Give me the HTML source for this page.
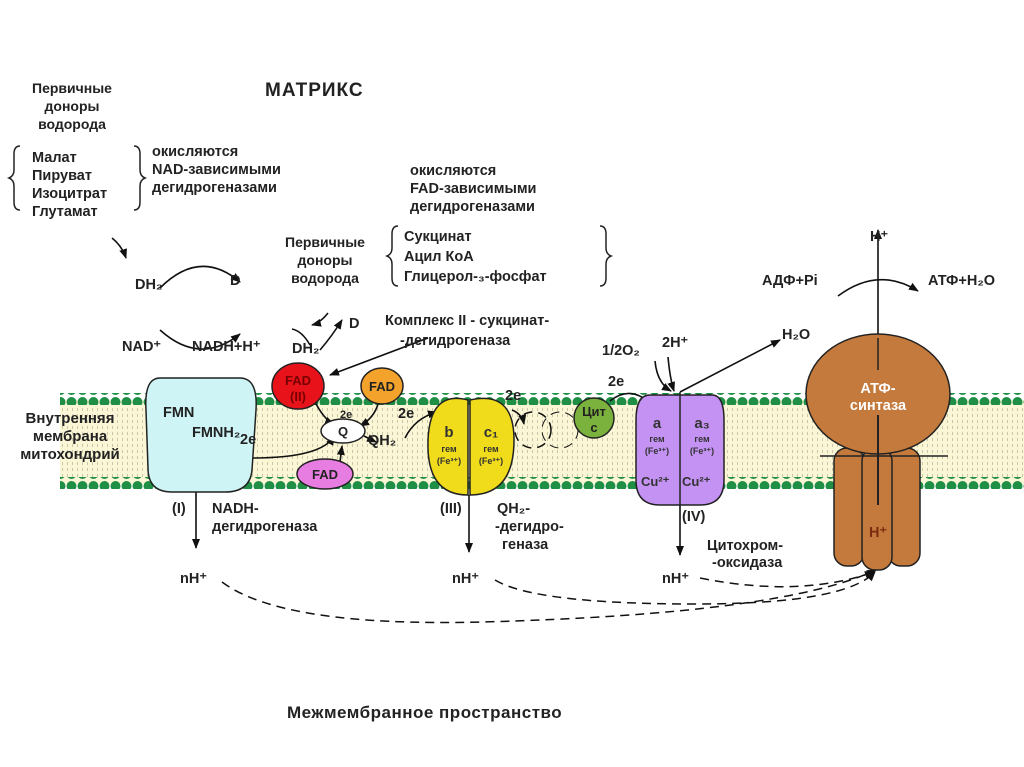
<!DOCTYPE html>
<html><head><meta charset="utf-8"><style>
body{margin:0;background:#fff}
svg{display:block;font-family:"Liberation Sans",sans-serif;font-weight:bold}
</style></head><body>
<svg width="1024" height="767" viewBox="0 0 1024 767">
<defs>
<marker id="a" markerWidth="10" markerHeight="8" refX="9" refY="4" orient="auto" markerUnits="userSpaceOnUse"><path d="M0,0 L10,4 L0,8 Z" fill="#111"/></marker>
<pattern id="bd" width="11" height="12" patternUnits="userSpaceOnUse"><circle cx="5.5" cy="6" r="5" fill="#1f8f45"/></pattern>
<pattern id="ln" width="5" height="6" patternUnits="userSpaceOnUse"><rect x="2" y="0" width="1" height="3" fill="#c9c7a8"/></pattern>
</defs>
<rect x="60" y="400" width="964" height="84" fill="#faf6d6"/>
<rect x="60" y="406" width="964" height="72" fill="url(#ln)"/>
<rect x="60" y="393" width="964" height="12" fill="url(#bd)"/>
<rect x="60" y="477" width="964" height="12" fill="url(#bd)"/>
<text font-size="15" fill="#222" text-anchor="middle"><tspan x="70" y="423">Внутренняя</tspan><tspan x="70" y="441">мембрана</tspan><tspan x="70" y="459">митохондрий</tspan></text>

<text font-size="14" fill="#222" text-anchor="middle"><tspan x="72" y="93">Первичные</tspan><tspan x="72" y="111">доноры</tspan><tspan x="72" y="129">водорода</tspan></text>
<text x="265" y="96" font-size="19" fill="#222" letter-spacing="1">МАТРИКС</text>
<text font-size="14.5" fill="#222"><tspan x="32" y="162">Малат</tspan><tspan x="32" y="180">Пируват</tspan><tspan x="32" y="198">Изоцитрат</tspan><tspan x="32" y="216">Глутамат</tspan></text>
<path d="M20,146 q-6,0 -6,8 v16 q0,6 -5,8 q5,2 5,8 v16 q0,8 6,8" fill="none" stroke="#222" stroke-width="1.5"/>
<path d="M134,146 q6,0 6,8 v16 q0,6 5,8 q-5,2 -5,8 v16 q0,8 -6,8" fill="none" stroke="#222" stroke-width="1.5"/>
<text font-size="14.5" fill="#222"><tspan x="152" y="156">окисляются</tspan><tspan x="152" y="174">NAD-зависимыми</tspan><tspan x="152" y="192">дегидрогеназами</tspan></text>
<text font-size="14.5" fill="#222"><tspan x="410" y="175">окисляются</tspan><tspan x="410" y="193">FAD-зависимыми</tspan><tspan x="410" y="211">дегидрогеназами</tspan></text>
<text font-size="14" fill="#222" text-anchor="middle"><tspan x="325" y="247">Первичные</tspan><tspan x="325" y="265">доноры</tspan><tspan x="325" y="283">водорода</tspan></text>
<text font-size="14.5" fill="#222"><tspan x="404" y="241">Сукцинат</tspan><tspan x="404" y="261">Ацил КоА</tspan><tspan x="404" y="281">Глицерол-₃-фосфат</tspan></text>
<path d="M398,226 q-6,0 -6,8 v14 q0,6 -5,8 q5,2 5,8 v14 q0,8 6,8" fill="none" stroke="#222" stroke-width="1.5"/>
<path d="M600,226 q6,0 6,8 v14 q0,6 5,8 q-5,2 -5,8 v14 q0,8 -6,8" fill="none" stroke="#222" stroke-width="1.5"/>

<g stroke="#111" stroke-width="1.6" fill="none">
<path d="M112,238 q10,8 14,20" marker-end="url(#a)"/>
<path d="M160,288 q40,-40 80,-6" marker-end="url(#a)"/>
<path d="M160,330 q40,36 80,4" marker-end="url(#a)"/>
<path d="M328,313 q-8,10 -16,12" marker-end="url(#a)"/>
<path d="M320,350 q12,-14 22,-30" marker-end="url(#a)"/>
<path d="M310,345 q-8,-14 -18,-16" />
<path d="M428,338 L330,375" marker-end="url(#a)"/>
<path d="M198,405 q0,-22 10,-22 q10,0 10,24" marker-end="url(#a)"/>
<path d="M232,440 q0,18 20,18 q70,0 82,-22" marker-end="url(#a)"/>
<path d="M314,400 q10,20 20,24" marker-end="url(#a)"/>
<path d="M378,404 q-4,14 -18,22" marker-end="url(#a)"/>
<path d="M340,462 l2,-16" marker-end="url(#a)"/>
<path d="M364,436 l12,6" marker-end="url(#a)"/>
<path d="M405,438 q10,-20 32,-26" marker-end="url(#a)"/>
<path d="M512,410 q10,4 12,14" marker-end="url(#a)"/>
<path d="M610,401 q20,-16 40,2" marker-end="url(#a)"/>
<path d="M655,361 q2,22 16,30" marker-end="url(#a)"/>
<path d="M668,357 q2,22 6,34" marker-end="url(#a)"/>
<path d="M680,392 L780,340" marker-end="url(#a)"/>
<path d="M196,492 V548" marker-end="url(#a)"/>
<path d="M469,495 V552" marker-end="url(#a)"/>
<path d="M680,505 V555" marker-end="url(#a)"/>
<path d="M878,560 V230" marker-end="url(#a)"/>
<path d="M838,296 q40,-30 80,-5" marker-end="url(#a)"/>
</g>
<g stroke="#111" stroke-width="1.5" fill="none" stroke-dasharray="9,6">
<path d="M222,582 q60,45 260,40 q300,-8 394,-52" marker-end="url(#a)"/>
<path d="M495,580 q40,24 200,24 q150,0 180,-32" marker-end="url(#a)"/>
<path d="M700,578 q100,20 174,-6" marker-end="url(#a)"/>
<circle cx="533" cy="430" r="18"/><circle cx="560" cy="430" r="18" stroke-width="1"/>
</g>

<text font-size="14.5" fill="#222"><tspan x="135" y="289">DH₂</tspan><tspan x="230" y="285">D</tspan><tspan x="122" y="351">NAD⁺</tspan><tspan x="192" y="351">NADH+H⁺</tspan><tspan x="292" y="353">DH₂</tspan><tspan x="349" y="328">D</tspan></text>
<text font-size="14.5" fill="#222"><tspan x="385" y="325">Комплекс II - сукцинат-</tspan><tspan x="400" y="345">-дегидрогеназа</tspan></text>

<path d="M160,378 H240 Q258,378 256,410 L252,470 Q250,492 225,492 H172 Q148,492 148,468 L146,410 Q144,378 160,378 Z" fill="#cff4f5" stroke="#222" stroke-width="1.5"/>
<text font-size="14.5" fill="#222"><tspan x="163" y="417">FMN</tspan><tspan x="192" y="437">FMNH₂</tspan></text>
<text x="240" y="444" font-size="14.5" fill="#222">2e</text>
<ellipse cx="298" cy="386" rx="26" ry="23" fill="#e8131a" stroke="#222" stroke-width="1.5"/>
<text x="298" y="385" font-size="13" fill="#700" text-anchor="middle">FAD</text>
<text x="298" y="401" font-size="13" fill="#700" text-anchor="middle">(II)</text>
<ellipse cx="382" cy="386" rx="21" ry="18" fill="#f3a22c" stroke="#222" stroke-width="1.5"/>
<text x="382" y="391" font-size="13" fill="#222" text-anchor="middle">FAD</text>
<ellipse cx="343" cy="431" rx="22" ry="12" fill="#fff" stroke="#222" stroke-width="1.5"/>
<text x="343" y="436" font-size="13" fill="#222" text-anchor="middle">Q</text>
<ellipse cx="325" cy="474" rx="28" ry="15" fill="#e77de0" stroke="#222" stroke-width="1.5"/>
<text x="325" y="479" font-size="13" fill="#222" text-anchor="middle">FAD</text>
<text font-size="14.5" fill="#222"><tspan x="340" y="418" font-size="11">2e</tspan><tspan x="398" y="418">2e</tspan><tspan x="368" y="445">QH₂</tspan><tspan x="505" y="400">2e</tspan><tspan x="608" y="386">2e</tspan></text>

<path d="M468,400 Q430,390 428,440 Q426,495 468,495 Z" fill="#f0dc1b" stroke="#222" stroke-width="1.5"/>
<path d="M470,400 Q514,390 514,440 Q514,495 470,495 Z" fill="#f0dc1b" stroke="#222" stroke-width="1.5"/>
<text font-size="15" fill="#333" text-anchor="middle"><tspan x="449" y="437">b</tspan><tspan x="491" y="437">c₁</tspan></text>
<text font-size="9" fill="#333" text-anchor="middle"><tspan x="449" y="452">гем</tspan><tspan x="449" y="464">(Fe³⁺)</tspan><tspan x="491" y="452">гем</tspan><tspan x="491" y="464">(Fe³⁺)</tspan></text>
<circle cx="594" cy="418" r="20" fill="#7bb13d" stroke="#222" stroke-width="1.5"/>
<text font-size="13" fill="#222" text-anchor="middle"><tspan x="594" y="416">Цит</tspan><tspan x="594" y="432">c</tspan></text>
<path d="M650,395 H712 Q724,395 724,420 V480 Q724,505 700,505 H660 Q636,505 636,480 V420 Q636,395 650,395 Z" fill="#c392f2" stroke="#222" stroke-width="1.5"/>
<line x1="680" y1="392" x2="680" y2="505" stroke="#222" stroke-width="1.5"/>
<text font-size="15" fill="#333" text-anchor="middle"><tspan x="657" y="428">a</tspan><tspan x="702" y="428">a₃</tspan></text>
<text font-size="9" fill="#333" text-anchor="middle"><tspan x="657" y="442">гем</tspan><tspan x="657" y="454">(Fe³⁺)</tspan><tspan x="702" y="442">гем</tspan><tspan x="702" y="454">(Fe³⁺)</tspan></text>
<text font-size="13" fill="#333"><tspan x="641" y="486">Cu²⁺</tspan><tspan x="682" y="486">Cu²⁺</tspan></text>
<text font-size="14.5" fill="#222"><tspan x="602" y="355">1/2O₂</tspan><tspan x="662" y="347">2H⁺</tspan><tspan x="782" y="339">H₂O</tspan></text>

<rect x="834" y="448" width="30" height="118" rx="13" fill="#c47a3d" stroke="#222" stroke-width="1.5"/>
<rect x="888" y="448" width="32" height="118" rx="13" fill="#c47a3d" stroke="#222" stroke-width="1.5"/>
<rect x="862" y="448" width="30" height="122" rx="13" fill="#c47a3d" stroke="#222" stroke-width="1.5"/>
<ellipse cx="878" cy="394" rx="72" ry="60" fill="#c47a3d" stroke="#222" stroke-width="1.5"/>
<line x1="820" y1="456" x2="948" y2="456" stroke="#222" stroke-width="1.5"/>
<line x1="878" y1="338" x2="878" y2="370" stroke="#222" stroke-width="1.5"/>
<line x1="878" y1="415" x2="878" y2="505" stroke="#222" stroke-width="2"/>
<text font-size="14.5" fill="#fff" text-anchor="middle"><tspan x="878" y="393">АТФ-</tspan><tspan x="878" y="410">синтаза</tspan><tspan x="878" y="537" fill="#7a2b10">H⁺</tspan></text>
<text font-size="14.5" fill="#222"><tspan x="870" y="241">H⁺</tspan><tspan x="762" y="285">АДФ+Pi</tspan><tspan x="928" y="285">АТФ+H₂O</tspan></text>

<text font-size="14.5" fill="#222"><tspan x="172" y="513">(I)</tspan><tspan x="212" y="513">NADH-</tspan><tspan x="212" y="531">дегидрогеназа</tspan>
<tspan x="440" y="513">(III)</tspan><tspan x="497" y="513">QH₂-</tspan><tspan x="495" y="531">-дегидро-</tspan><tspan x="502" y="549">геназа</tspan>
<tspan x="682" y="521">(IV)</tspan><tspan x="707" y="550">Цитохром-</tspan><tspan x="712" y="567">-оксидаза</tspan>
<tspan x="180" y="583">nH⁺</tspan><tspan x="452" y="583">nH⁺</tspan><tspan x="662" y="583">nH⁺</tspan></text>
<text x="287" y="718" font-size="17" fill="#222" letter-spacing="0.5">Межмембранное пространство</text>
</svg>
</body></html>
